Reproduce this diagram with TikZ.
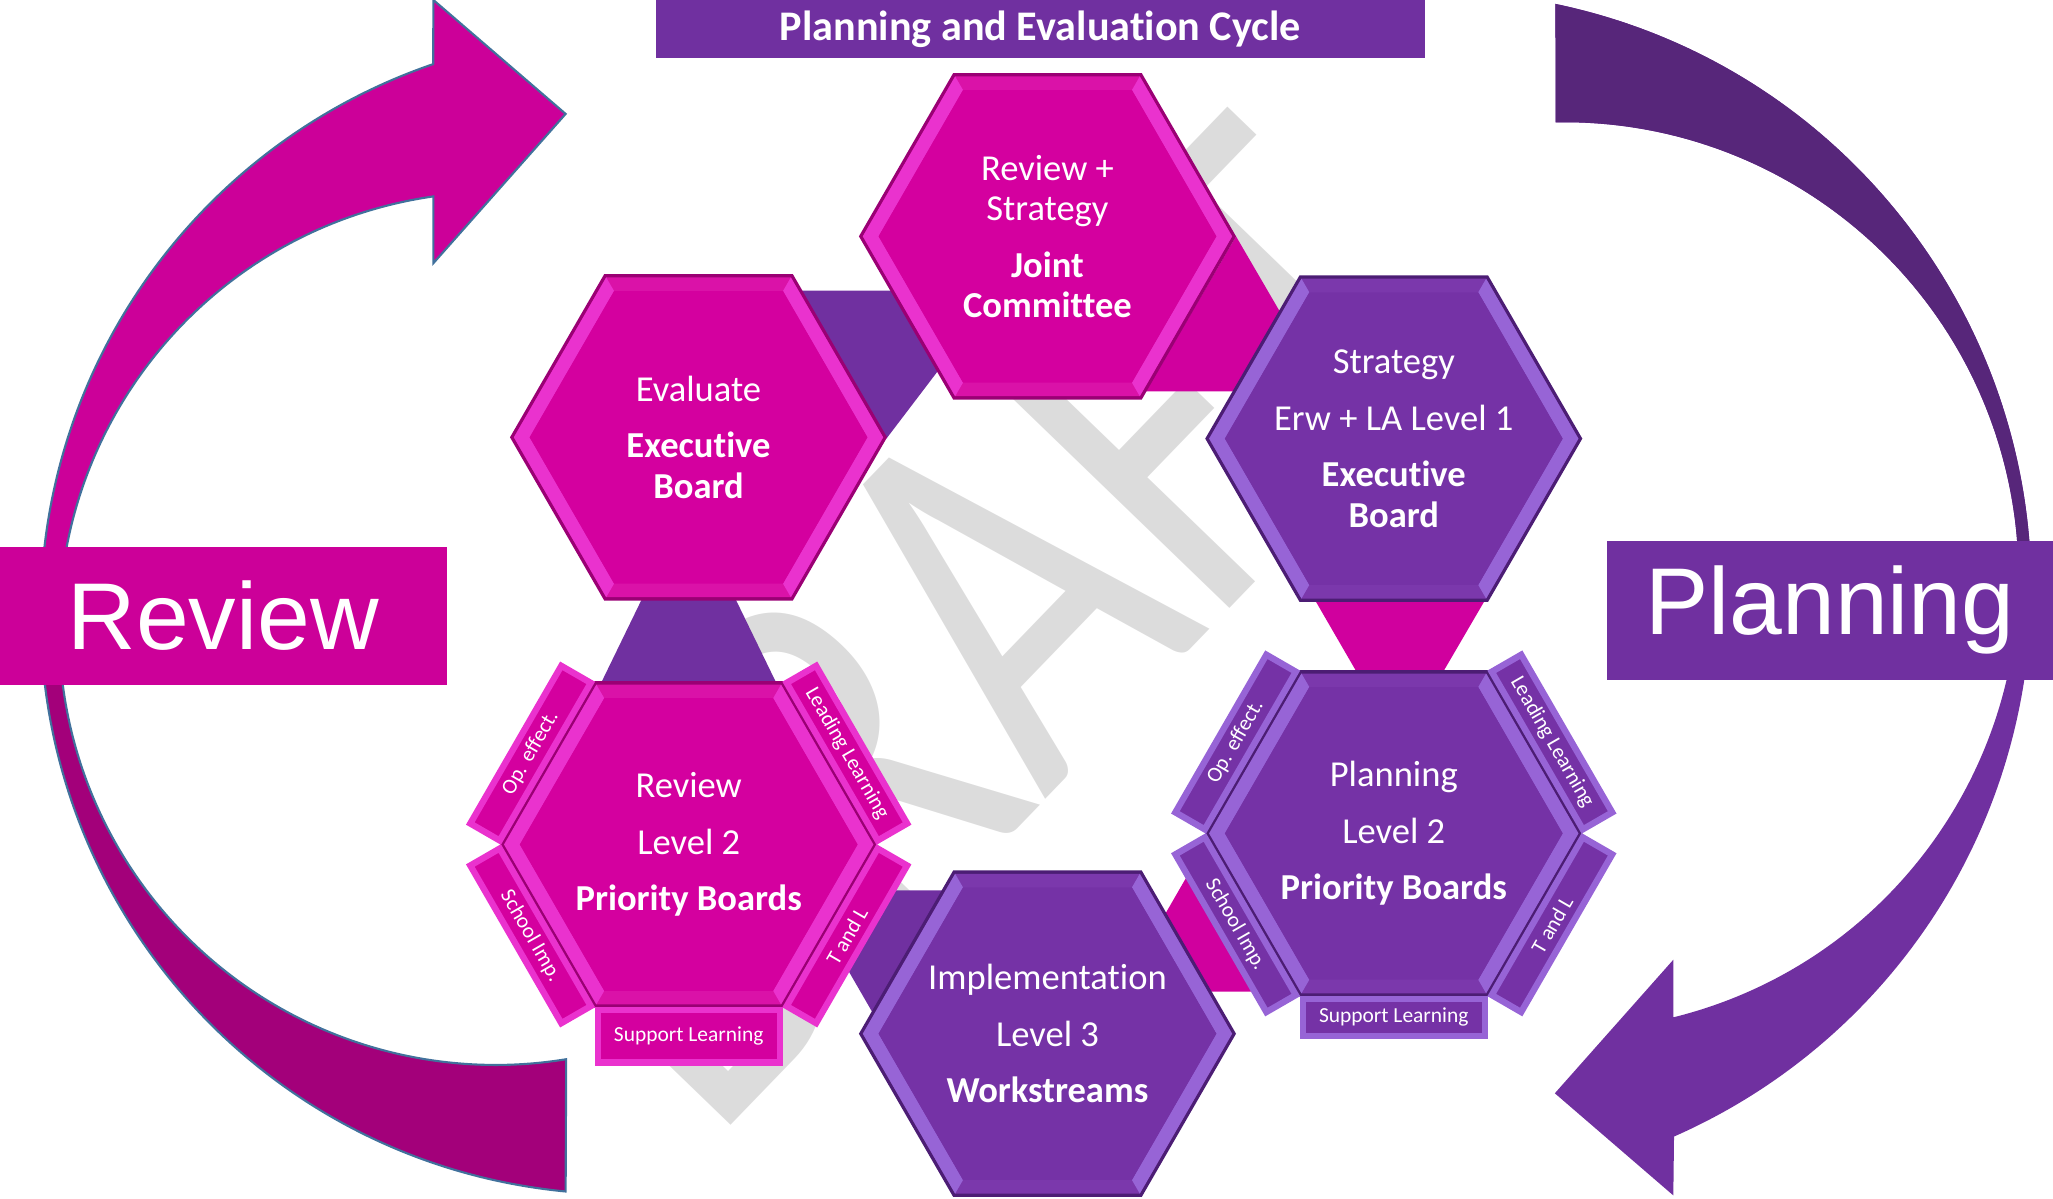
\documentclass[tikz,border=0pt]{standalone}
\usepackage{fontspec}
\setmainfont{Carlito}[Ligatures=NoCommon]
\newfontfamily\bigsans{Liberation Sans}
\usetikzlibrary{calc}
\definecolor{hexmag}{HTML}{D4009F}
\definecolor{rimmag}{HTML}{EA32CE}
\definecolor{edgemag}{HTML}{9A0074}
\definecolor{facemag}{HTML}{DA12A8}
\definecolor{hexpur}{HTML}{7532A6}
\definecolor{rimpur}{HTML}{9764D6}
\definecolor{edgepur}{HTML}{4C1D74}
\definecolor{facepur}{HTML}{7B38AC}
\definecolor{linkmag}{HTML}{D0009E}
\definecolor{linkpur}{HTML}{7030A0}
\definecolor{boxmag}{HTML}{CC0099}
\definecolor{boxpur}{HTML}{7030A0}
\definecolor{arcmaglow}{HTML}{A3007A}
\definecolor{arcpurtop}{HTML}{57267A}
\definecolor{arcline}{HTML}{41719C}
\definecolor{draftgrey}{HTML}{DCDCDC}
\begin{document}
\begin{tikzpicture}[x=0.013093cm,y=-0.013093cm,
  hextext/.style={text=white,align=center,font=\fontsize{10.4}{11.5}\selectfont},
  tabbox/.style={rectangle,line width=1.8pt,minimum width=1.82cm,minimum height=0.34cm,inner sep=0pt,text=white,font=\fontsize{6.1}{7}\selectfont},
  sidebox/.style={rectangle,minimum width=4.465cm,minimum height=1.38cm,inner sep=0pt,text=white,font=\bigsans\fontsize{27}{32}\selectfont}]
\useasboundingbox (0,0) rectangle (1568,915);
\node[rotate=46,xscale=0.76,text=draftgrey,inner sep=0pt,font=\fontsize{155}{155}\selectfont] (draft) at (742,477) {DRAFT};
\path[save path=\reviewarc] (432,910) arc[start angle=95.5,end angle=251.1,radius=443.5] -- (331,0) -- (432,87) -- (331,201) -- (331,150) arc[start angle=261.8,end angle=80.7,radius=333.4] -- cycle;
\fill[boxmag,use path=\reviewarc];
\begin{scope}
\clip (0,470) rectangle (500,915);
\fill[arcmaglow,use path=\reviewarc];
\end{scope}
\draw[arcline,line width=0.6pt,use path=\reviewarc];
\path[save path=\planarc] (1188,3) arc[start angle=-78.2,end angle=66.25,radius=456.7] -- (1278,913) -- (1187.5,835) -- (1278,733) -- (1278,777) arc[start angle=76.1,end angle=-91.1,radius=346.9] -- cycle;
\fill[boxpur,use path=\planarc];
\begin{scope}
\clip (1100,0) rectangle (1568,466);
\fill[arcpurtop,use path=\planarc];
\end{scope}
\coordinate (jcC) at (800,180.5);
\coordinate (ebC) at (533.5,334);
\coordinate (sbC) at (1064.5,335);
\coordinate (rlC) at (526,645);
\coordinate (plC) at (1064.5,636.5);
\coordinate (imC) at (800,789.5);
\fill[linkpur] (608,222) -- (763,222) -- (677,335) -- cycle;
\fill[linkmag] (944,180.5) -- (875,299) -- (1013,299) -- cycle;
\fill[linkmag] (1005,459.5) -- (1133.5,459.5) -- (1069,570) -- cycle;
\fill[linkpur] (526,384) -- (455,530) -- (597,530) -- cycle;
\fill[linkpur] (612.5,680) -- (751,680) -- (681.8,800) -- cycle;
\fill[linkmag] (924,639) -- (855.7,757.4) -- (992.3,757.4) -- cycle;
\foreach \c/\p in {jcC/mag,ebC/mag,sbC/pur,rlC/mag,plC/pur,imC/pur}{
  \fill[edge\p] (\c) +(0:144) -- +(60:144) -- +(120:144) -- +(180:144) -- +(240:144) -- +(300:144) -- cycle;
  \fill[face\p] (\c) +(0:141) -- +(60:141) -- +(120:141) -- +(180:141) -- +(240:141) -- +(300:141) -- cycle;
  \fill[rim\p] (\c) +(120:141) -- +(180:141) -- +(240:141) -- +(240:129) -- +(180:129) -- +(120:129) -- cycle
    (\c) +(300:141) -- +(0:141) -- +(60:141) -- +(60:129) -- +(0:129) -- +(300:129) -- cycle;
  \fill[hex\p] (\c) +(0:129) -- +(60:129) -- +(120:129) -- +(180:129) -- +(240:129) -- +(300:129) -- cycle;
}
\foreach \c/\p/\n/\bt/\bd in {rlC/mag/rl/0.524/146.5,plC/pur/pl/0.367/140.5}{
  \node[tabbox,draw=rim\p,fill=hex\p,rotate=60] (\n-op) at ($(\c)+(210:139.5)$) {Op. effect.};
  \node[tabbox,draw=rim\p,fill=hex\p,rotate=-60] (\n-ll) at ($(\c)+(330:139.5)$) {Leading Learning};
  \node[tabbox,draw=rim\p,fill=hex\p,rotate=60] (\n-tl) at ($(\c)+(30:139.5)$) {T and L};
  \node[tabbox,draw=rim\p,fill=hex\p,rotate=-60] (\n-si) at ($(\c)+(150:139.5)$) {School Imp.};
  \node[tabbox,draw=rim\p,fill=hex\p,minimum height=\bt cm] (\n-sl) at ($(\c)+(90:\bd)$) {Support Learning};
}
\node[hextext] (jc) at (jcC) {Review +\\Strategy\\[4.6pt]\textbf{Joint}\\\textbf{Committee}};
\node[hextext] (eb) at (ebC) {Evaluate\\[4.6pt]\textbf{Executive}\\\textbf{Board}};
\node[hextext] (sb) at (sbC) {Strategy\\[4.6pt]Erw + LA Level 1\\[4.6pt]\textbf{Executive}\\\textbf{Board}};
\node[hextext] (rl) at (rlC) {Review\\[4.6pt]Level 2\\[4.6pt]\textbf{Priority Boards}};
\node[hextext] (pl) at (plC) {Planning\\[4.6pt]Level 2\\[4.6pt]\textbf{Priority Boards}};
\node[hextext] (im) at (imC) {Implementation\\[4.6pt]Level 3\\[4.6pt]\textbf{Workstreams}};
\node[sidebox,fill=boxmag] (review) at (170.5,470.5) {Review};
\node[sidebox,fill=boxpur,minimum height=1.388cm] (planning) at (1397.5,466) {Planning};
\node[fill=boxpur,minimum width=7.686cm,minimum height=0.576cm,inner sep=0pt,text=white,font=\bfseries\fontsize{12}{14}\selectfont] (title) at (794.5,22) {Planning and Evaluation Cycle};
\end{tikzpicture}
\end{document}
